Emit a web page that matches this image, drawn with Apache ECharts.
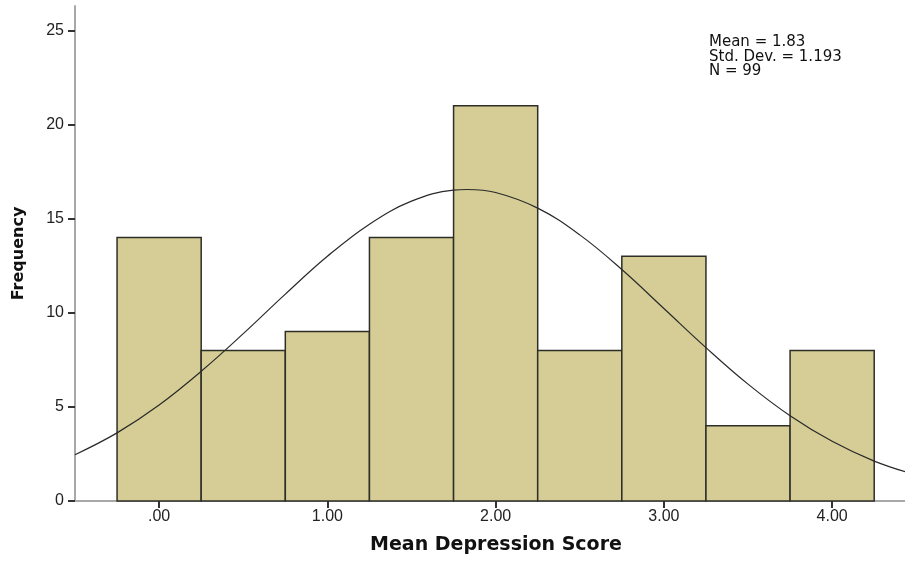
<!DOCTYPE html>
<html>
<head>
<meta charset="utf-8">
<title>Mean Depression Score</title>
<script src="https://cdn.jsdelivr.net/npm/echarts@6/dist/echarts.min.js"></script>
<style>
  html, body { margin: 0; padding: 0; background: #fff; }
  #chart { width: 905px; height: 562px; }
</style>
</head>
<body>
<div id="chart"></div>
<script>
// Histogram bins (bin centres, width 0.5) and their counts
const binCenters = [0, 0.5, 1.0, 1.5, 2.0, 2.5, 3.0, 3.5, 4.0];
const binWidth = 0.5;
const frequencies = [14, 8, 9, 14, 21, 8, 13, 4, 8];

// Fitted normal curve, sampled along the score axis
const curveX = [-0.5, -0.25, 0, 0.25, 0.5, 0.75, 1.0, 1.25, 1.5, 1.75, 1.83, 2.0, 2.25, 2.5, 2.75, 3.0, 3.25, 3.5, 3.75, 4.0, 4.25, 4.5];
const curveY = [2.46, 3.62, 5.10, 6.89, 8.89, 10.99, 13.00, 14.71, 15.93, 16.52, 16.55, 16.39, 15.56, 14.14, 12.30, 10.23, 8.15, 6.21, 4.53, 3.17, 2.12, 1.38];

// Axis ticks
const xTicks = [0, 1, 2, 3, 4];
const yTicks = [0, 5, 10, 15, 20, 25];

// Summary statistics
const statLines = ['Mean = 1.83', 'Std. Dev. = 1.193', 'N = 99'];

const FONT = 'Liberation Sans, Arial, sans-serif';
const WIDE_FONT = 'DejaVu Sans, Verdana, sans-serif';

const chart = echarts.init(document.getElementById('chart'), null, { renderer: 'canvas' });

const barData = binCenters.map((c, i) => [c - binWidth / 2, c + binWidth / 2, frequencies[i]]);
const curveData = curveX.map((x, i) => [x, curveY[i]]);

chart.setOption({
  animation: false,
  backgroundColor: '#ffffff',
  grid: { left: 75, right: 0, top: 6, bottom: 61, containLabel: false },
  xAxis: {
    type: 'value',
    min: -0.5,
    max: 4.433,
    name: 'Mean Depression Score',
    nameLocation: 'middle',
    nameGap: 35,
    nameTextStyle: { fontFamily: WIDE_FONT, fontWeight: 'bold', fontSize: 19, color: '#111', padding: [0, 0, 0, 12] },
    axisLine: { show: true, onZero: false, lineStyle: { color: '#a8a8a8', width: 2 } },
    axisTick: { show: true, customValues: xTicks, length: 7, lineStyle: { color: '#333', width: 2 } },
    axisLabel: {
      customValues: xTicks,
      margin: 8,
      fontFamily: FONT, fontSize: 16, color: '#222',
      formatter: v => (v === 0 ? '.00' : v.toFixed(2))
    },
    splitLine: { show: false }
  },
  yAxis: {
    type: 'value',
    min: 0,
    max: 26.3,
    name: 'Frequency',
    nameLocation: 'middle',
    nameGap: 48,
    nameTextStyle: { fontFamily: WIDE_FONT, fontWeight: 'bold', fontSize: 16, color: '#111' },
    axisLine: { show: true, onZero: false, lineStyle: { color: '#a8a8a8', width: 2 } },
    axisTick: { show: true, customValues: yTicks, length: 7, lineStyle: { color: '#333', width: 2 } },
    axisLabel: {
      customValues: yTicks,
      margin: 11,
      fontFamily: FONT, fontSize: 16, color: '#222'
    },
    splitLine: { show: false }
  },
  series: [
    {
      type: 'custom',
      name: 'Frequency',
      data: barData,
      encode: { x: [0, 1], y: 2 },
      renderItem: function (params, api) {
        const p0 = api.coord([api.value(0), 0]);
        const p1 = api.coord([api.value(1), api.value(2)]);
        return {
          type: 'rect',
          shape: { x: p0[0], y: p1[1], width: p1[0] - p0[0], height: p0[1] - p1[1] },
          style: { fill: '#d5cd95', stroke: '#2e2e28', lineWidth: 1.5 }
        };
      },
      z: 2
    },
    {
      type: 'line',
      name: 'Normal',
      data: curveData,
      smooth: 0.4,
      showSymbol: false,
      clip: true,
      lineStyle: { color: '#2a2a2a', width: 1.2 },
      z: 3
    }
  ],
  graphic: [
    {
      type: 'text',
      left: 709,
      top: 35,
      style: {
        text: statLines.join('\n'),
        fontFamily: WIDE_FONT,
        fontSize: 15,
        lineHeight: 14.5,
        fill: '#111'
      }
    }
  ]
});
</script>
</body>
</html>
